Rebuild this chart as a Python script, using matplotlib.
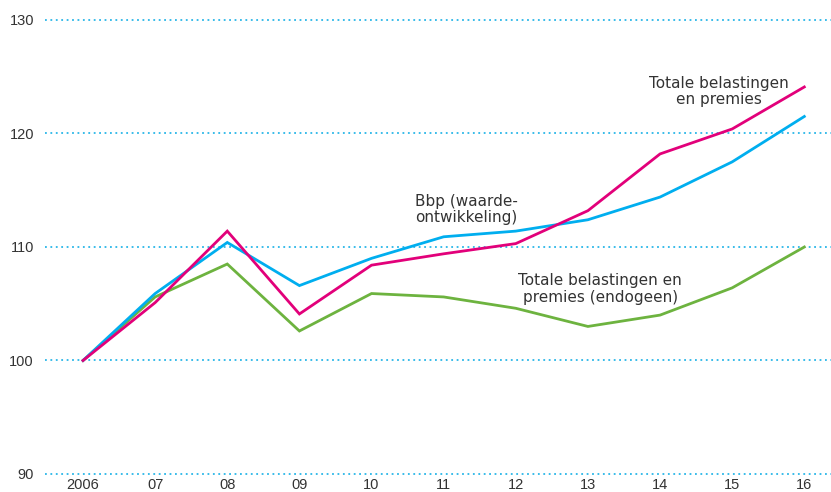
import numpy as np
import matplotlib
matplotlib.use('Agg')
import matplotlib.pyplot as plt

# 데이터 (2006 = 100)
jaren = ['2006', '07', '08', '09', '10', '11', '12', '13', '14', '15', '16']
belastingen = [100, 105.1, 111.4, 104.1, 108.4, 109.4, 110.3, 113.2, 118.2, 120.4, 124.1]
bbp = [100, 105.9, 110.4, 106.6, 109.0, 110.9, 111.4, 112.4, 114.4, 117.5, 121.5]
endogeen = [100, 105.6, 108.5, 102.6, 105.9, 105.6, 104.6, 103.0, 104.0, 106.4, 110.0]
y_ticks = [90, 100, 110, 120, 130]

tekst = '#333333'
fig = plt.figure(figsize=(8.31, 4.92), dpi=100)
ax = fig.add_axes([45 / 831, 18 / 492, 1 - 45 / 831, 454 / 492])

x = np.arange(len(jaren))
ax.plot(x, endogeen, color='#6db33f', lw=2.0, solid_joinstyle='miter')
ax.plot(x, bbp, color='#00aeef', lw=2.0, solid_joinstyle='miter')
ax.plot(x, belastingen, color='#e2007a', lw=2.0, solid_joinstyle='miter')

for v in y_ticks:
    ax.axhline(v, color='#29b6e8', lw=1.3, ls=(0, (1, 2)), zorder=0, clip_on=False)

ax.set_xlim(-0.527, 10.37)
ax.set_ylim(90, 130)
ax.set_xticks(x)
ax.set_xticklabels(jaren)
ax.set_yticks(y_ticks)
for s in ax.spines.values():
    s.set_visible(False)
ax.tick_params(axis='both', length=0, labelsize=10.5, labelcolor=tekst)
ax.tick_params(axis='x', pad=3)
ax.tick_params(axis='y', pad=8)
for lab in ax.get_xticklabels() + ax.get_yticklabels():
    lab.set_family(['Liberation Sans Narrow', 'Liberation Sans', 'DejaVu Sans'])

fs = 11
ax.text(8.81, 123.7, 'Totale belastingen\nen premies', ha='center', va='center',
        fontsize=fs, color=tekst, linespacing=1.1)
ax.text(4.6, 113.3, 'Bbp (waarde-\nontwikkeling)', ha='left', va='center',
        fontsize=fs, color=tekst, linespacing=1.1)
ax.text(7.17, 106.3, 'Totale belastingen en\npremies (endogeen)', ha='center', va='center',
        fontsize=fs, color=tekst, linespacing=1.1)

fig.savefig('out.png', dpi=100)
